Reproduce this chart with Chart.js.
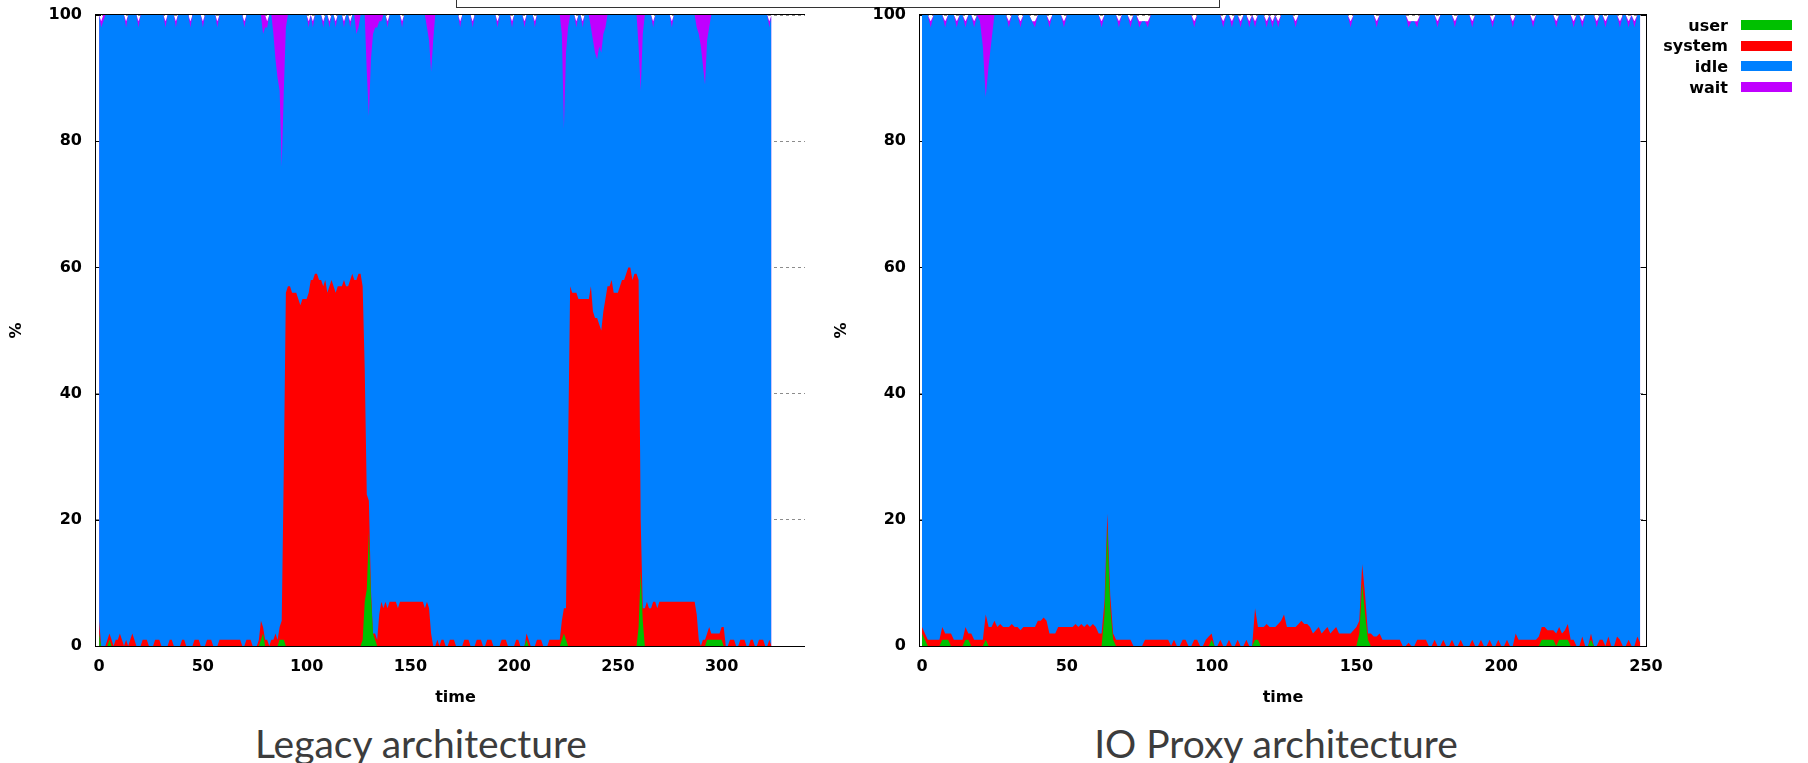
<!DOCTYPE html>
<html>
<head>
<meta charset="utf-8">
<title>CPU usage: legacy vs IO proxy architecture</title>
<script src="https://cdn.jsdelivr.net/npm/chart.js@4.4.1/dist/chart.umd.min.js"></script>
<style>
    html, body { margin: 0; padding: 0; background: #ffffff; }
    #page { position: relative; width: 1808px; height: 763px; overflow: hidden; background: #ffffff; }
    #legacyClip { position: absolute; left: 0; top: 0; width: 805px; height: 720px; overflow: hidden; }
    #legacyChart { position: absolute; left: 0; top: 0; }
    #proxyChart { position: absolute; left: 825px; top: 0; }
    .caption { position: absolute; top: 721px; width: 500px; text-align: center; font-family: Lato, "Open Sans", sans-serif; font-size: 39px; line-height: 44px; color: #3c3c3c; white-space: nowrap; }
    #titleBox { position: absolute; left: 456px; top: -20px; width: 764px; height: 28px; border: 1px solid #333333; box-sizing: border-box; }
    #legend { position: absolute; left: 1600px; top: 0; width: 208px; height: 110px; font: bold 16px "DejaVu Sans", sans-serif; color: #000000; }
    .legend-row { position: absolute; left: 0; height: 20px; display: flex; align-items: center; }
    .legend-row span { display: block; width: 128px; text-align: right; }
    .legend-row i { display: block; width: 51px; height: 10px; margin-left: 13px; }
</style>
</head>
<body>
<div id="page">
    <div id="titleBox"></div>
    <div id="legacyClip"><canvas id="legacyChart" width="820" height="720"></canvas></div>
    <canvas id="proxyChart" width="841" height="720"></canvas>
    <div id="legend"></div>
    <div class="caption" style="left: 171px;">Legacy architecture</div>
    <div class="caption" style="left: 1026px;">IO Proxy architecture</div>
</div>
<script>
"use strict";

const seriesNames = ["user", "system", "idle", "wait"];
const seriesColors = ["#00c000", "#ff0000", "#0080ff", "#c000ff"];
const percentTicks = [0, 20, 40, 60, 80, 100];
const legacyTicksX = [0, 50, 100, 150, 200, 250, 300];
const proxyTicksX = [0, 50, 100, 150, 200, 250];

// one sample per second, t = 0 .. 324
const legacyUser = [
    2, 0, 0, 0, 0, 1, 0, 0, 0, 0,  0, 0, 0, 0, 0, 0, 0, 0, 0, 0,
    0, 0, 0, 0, 0, 0, 0, 0, 0, 0,  0, 0, 0, 0, 0, 0, 0, 0, 0, 0,
    0, 0, 0, 0, 0, 0, 0, 0, 0, 0,  0, 0, 0, 0, 0, 0, 0, 0, 0, 0,
    0, 0, 0, 0, 0, 0, 0, 0, 0, 0,  0, 0, 0, 0, 0, 0, 0, 0, 1, 2,
    0, 0, 0, 0, 0, 0, 0, 1, 1, 1,  0, 0, 0, 0, 0, 0, 0, 0, 0, 0,
    0, 0, 0, 0, 0, 0, 0, 0, 0, 0,  0, 0, 0, 0, 0, 0, 0, 0, 0, 0,
    0, 0, 0, 0, 0, 0, 0, 1, 7, 9,  18, 8, 2, 1, 0, 0, 0, 0, 0, 0,
    0, 0, 0, 0, 0, 0, 0, 0, 0, 0,  0, 0, 0, 0, 0, 0, 0, 0, 0, 0,
    0, 0, 0, 0, 0, 0, 0, 0, 0, 0,  0, 0, 0, 0, 0, 0, 0, 0, 0, 0,
    0, 0, 0, 0, 0, 0, 0, 0, 0, 0,  0, 0, 0, 0, 0, 0, 0, 0, 0, 0,
    0, 0, 0, 0, 0, 0, 1, 0, 0, 0,  0, 0, 0, 0, 0, 0, 0, 0, 0, 0,
    0, 0, 0, 1, 2, 1, 0, 0, 0, 0,  0, 0, 0, 0, 0, 0, 0, 0, 0, 0,
    0, 0, 0, 0, 0, 0, 0, 0, 0, 0,  0, 0, 0, 0, 0, 0, 0, 0, 0, 0,
    3, 12, 4, 0, 0, 0, 0, 0, 0, 0,  0, 0, 0, 0, 0, 0, 0, 0, 0, 0,
    0, 0, 0, 0, 0, 0, 0, 0, 0, 0,  0, 0, 0, 1, 1, 1, 1, 1, 1, 1,
    1, 0, 0, 0, 0, 0, 0, 0, 0, 0,  0, 0, 0, 0, 0, 0, 0, 0, 0, 0,
    0, 0, 0, 0, 0
];
const legacySystem = [
    2, 0, 0, 0, 1, 1, 1, 0, 1, 1,  2, 1, 0, 1, 0, 1, 2, 1, 0, 0,
    0, 1, 1, 1, 0, 0, 0, 1, 1, 1,  0, 0, 0, 0, 1, 1, 0, 0, 0, 0,
    1, 1, 0, 0, 0, 0, 1, 1, 1, 0,  0, 0, 1, 1, 1, 0, 0, 0, 1, 1,
    1, 1, 1, 1, 1, 1, 1, 1, 1, 0,  0, 1, 1, 1, 0, 0, 0, 1, 3, 1,
    1, 1, 0, 1, 1, 2, 1, 2, 3, 27,  56, 57, 57, 56, 56, 56, 55, 54, 55, 55,
    55, 56, 58, 58, 59, 59, 58, 58, 57, 58,  56, 57, 58, 57, 56, 57, 57, 57, 58, 57,
    57, 58, 59, 58, 58, 59, 59, 56, 37, 15,  5, 1, 0, 1, 1, 5, 7, 6, 7, 6,
    7, 7, 7, 7, 6, 7, 7, 7, 7, 7,  7, 7, 7, 7, 7, 7, 7, 6, 7, 6,
    2, 0, 0, 1, 0, 1, 1, 0, 0, 1,  1, 1, 0, 0, 0, 0, 1, 1, 1, 0,
    0, 0, 1, 1, 1, 0, 0, 1, 1, 1,  0, 0, 0, 0, 1, 1, 1, 0, 0, 0,
    0, 1, 1, 0, 0, 0, 1, 1, 0, 0,  0, 1, 1, 1, 0, 0, 0, 1, 1, 1,
    1, 1, 1, 3, 4, 5, 31, 57, 56, 56,  56, 55, 55, 55, 55, 55, 55, 57, 53, 52,
    52, 51, 50, 53, 55, 57, 57, 58, 56, 56,  56, 57, 58, 58, 59, 60, 60, 58, 59, 59,
    55, 8, 2, 6, 7, 6, 6, 7, 7, 6,  7, 7, 7, 7, 7, 7, 7, 7, 7, 7,
    7, 7, 7, 7, 7, 7, 7, 7, 5, 1,  0, 1, 1, 1, 2, 1, 1, 1, 1, 1,
    2, 3, 0, 0, 1, 1, 1, 0, 0, 1,  1, 1, 0, 0, 1, 1, 0, 0, 1, 1,
    1, 0, 0, 1, 0
];
const legacyIdle = [
    96, 98, 99, 100, 99, 98, 99, 100, 99, 99,  98, 99, 100, 97, 100, 99, 98, 99, 100, 98,
    100, 99, 99, 99, 100, 100, 100, 99, 99, 99,  100, 100, 98, 100, 99, 99, 100, 98, 100, 100,
    99, 99, 100, 100, 98, 100, 99, 99, 99, 100,  98, 100, 99, 99, 99, 100, 100, 98, 99, 99,
    99, 99, 99, 99, 99, 99, 99, 99, 99, 100,  98, 99, 99, 99, 100, 100, 100, 99, 96, 94,
    97, 97, 100, 99, 96, 91, 89, 85, 72, 60,  42, 43, 43, 44, 44, 44, 45, 46, 45, 45,
    45, 42, 42, 40, 41, 41, 42, 42, 41, 42,  44, 41, 42, 43, 42, 43, 43, 43, 40, 43,
    43, 40, 41, 42, 39, 39, 41, 43, 56, 67,  61, 84, 95, 96, 97, 94, 92, 94, 93, 92,
    93, 93, 93, 93, 94, 93, 91, 93, 93, 93,  93, 93, 93, 93, 93, 93, 93, 94, 91, 90,
    89, 96, 100, 99, 100, 99, 99, 100, 100, 99,  99, 99, 100, 100, 98, 100, 99, 99, 99, 100,
    98, 100, 99, 99, 99, 100, 100, 99, 99, 99,  100, 100, 98, 100, 99, 99, 99, 100, 100, 98,
    100, 99, 99, 100, 100, 98, 98, 99, 100, 100,  98, 99, 99, 99, 100, 100, 100, 99, 99, 99,
    99, 99, 99, 93, 76, 88, 67, 43, 44, 44,  42, 45, 45, 43, 45, 45, 45, 41, 43, 42,
    41, 44, 44, 44, 43, 43, 43, 42, 44, 44,  44, 43, 42, 42, 41, 40, 40, 42, 41, 41,
    37, 68, 91, 94, 93, 94, 94, 91, 93, 94,  93, 93, 93, 93, 93, 93, 91, 93, 93, 93,
    93, 93, 93, 93, 93, 93, 93, 93, 93, 96,  95, 91, 88, 94, 95, 98, 98, 98, 98, 98,
    97, 97, 100, 100, 99, 99, 99, 100, 100, 99,  99, 99, 100, 100, 99, 99, 100, 100, 99, 99,
    99, 100, 100, 97, 100
];
const legacyWait = [
    0, 1, 1, 0, 0, 0, 0, 0, 0, 0,  0, 0, 0, 1, 0, 0, 0, 0, 0, 1,
    0, 0, 0, 0, 0, 0, 0, 0, 0, 0,  0, 0, 1, 0, 0, 0, 0, 1, 0, 0,
    0, 0, 0, 0, 1, 0, 0, 0, 0, 0,  1, 0, 0, 0, 0, 0, 0, 1, 0, 0,
    0, 0, 0, 0, 0, 0, 0, 0, 0, 0,  1, 0, 0, 0, 0, 0, 0, 0, 0, 3,
    2, 1, 0, 0, 3, 7, 10, 12, 24, 12,  2, 0, 0, 0, 0, 0, 0, 0, 0, 0,
    0, 1, 0, 1, 0, 0, 0, 0, 1, 0,  0, 1, 0, 0, 1, 0, 0, 0, 1, 0,
    0, 1, 0, 0, 3, 2, 0, 0, 0, 9,  16, 7, 3, 2, 2, 1, 1, 0, 0, 1,
    0, 0, 0, 0, 0, 0, 1, 0, 0, 0,  0, 0, 0, 0, 0, 0, 0, 0, 2, 4,
    9, 4, 0, 0, 0, 0, 0, 0, 0, 0,  0, 0, 0, 0, 1, 0, 0, 0, 0, 0,
    1, 0, 0, 0, 0, 0, 0, 0, 0, 0,  0, 0, 1, 0, 0, 0, 0, 0, 0, 1,
    0, 0, 0, 0, 0, 1, 0, 0, 0, 0,  1, 0, 0, 0, 0, 0, 0, 0, 0, 0,
    0, 0, 0, 3, 18, 6, 2, 0, 0, 0,  1, 0, 0, 1, 0, 0, 0, 2, 4, 6,
    7, 5, 6, 3, 2, 0, 0, 0, 0, 0,  0, 0, 0, 0, 0, 0, 0, 0, 0, 0,
    5, 12, 3, 0, 0, 0, 0, 1, 0, 0,  0, 0, 0, 0, 0, 0, 1, 0, 0, 0,
    0, 0, 0, 0, 0, 0, 0, 0, 2, 3,  5, 8, 11, 4, 2, 0, 0, 0, 0, 0,
    0, 0, 0, 0, 0, 0, 0, 0, 0, 0,  0, 0, 0, 0, 0, 0, 0, 0, 0, 0,
    0, 0, 0, 1, 0
];

// one sample per second, t = 0 .. 248
const proxyUser = [
    2, 1, 0, 0, 0, 0, 0, 1, 1, 1,  0, 0, 0, 0, 0, 1, 1, 0, 0, 0,
    0, 0, 1, 0, 0, 0, 0, 0, 0, 0,  0, 0, 0, 0, 0, 0, 0, 0, 0, 0,
    0, 0, 0, 0, 0, 0, 0, 0, 0, 0,  0, 0, 0, 0, 0, 0, 0, 0, 0, 0,
    0, 0, 0, 5, 19, 6, 1, 0, 0, 0,  0, 0, 0, 0, 0, 0, 0, 0, 0, 0,
    0, 0, 0, 0, 0, 0, 0, 0, 0, 0,  0, 0, 0, 0, 0, 0, 0, 0, 0, 0,
    1, 0, 0, 0, 0, 0, 0, 0, 0, 0,  0, 0, 0, 0, 0, 1, 1, 0, 0, 0,
    0, 0, 0, 0, 0, 0, 0, 0, 0, 0,  0, 0, 0, 0, 0, 0, 0, 0, 0, 0,
    0, 0, 0, 0, 0, 0, 0, 0, 0, 0,  0, 2, 10, 5, 1, 0, 0, 0, 0, 0,
    0, 0, 0, 0, 0, 0, 0, 0, 0, 0,  0, 0, 0, 0, 0, 0, 0, 0, 0, 0,
    0, 0, 0, 0, 0, 0, 0, 0, 0, 0,  0, 0, 0, 0, 0, 0, 0, 0, 0, 0,
    0, 0, 0, 0, 0, 0, 0, 0, 0, 0,  0, 0, 0, 0, 1, 1, 1, 1, 1, 0,
    1, 1, 1, 1, 0, 0, 0, 0, 0, 0,  0, 1, 0, 0, 0, 0, 0, 0, 0, 0,
    0, 0, 0, 0, 0, 0, 0, 0, 0
];
const proxySystem = [
    1, 1, 1, 1, 1, 1, 1, 2, 1, 1,  2, 1, 1, 1, 1, 2, 1, 2, 1, 1,
    1, 1, 4, 3, 3, 4, 3, 3.5, 3, 3,  3, 3.5, 3, 3, 2.5, 3, 3, 3, 3, 3,
    4, 4, 4.5, 4, 2, 2, 2, 3, 3, 3,  3, 3, 3, 3.5, 3, 3.5, 3, 3.5, 3, 3.5,
    3, 2, 2, 2, 2, 2, 1, 1, 1, 1,  1, 1, 1, 0, 0, 0, 0, 1, 1, 1,
    1, 1, 1, 1, 1, 1, 0, 1, 0, 0,  1, 1, 0, 0, 1, 1, 0, 0, 1, 1.5,
    1, 0, 0, 1, 0, 0, 1, 0, 0, 1,  0, 0, 1, 0, 0, 5, 2, 3, 3, 3.5,
    3, 3, 3, 3.5, 4, 5, 3, 3, 3, 3,  3.5, 4, 3.5, 3.5, 3, 2, 2.5, 3, 2, 2.5,
    3, 2, 2.5, 3, 2, 2, 2, 2, 2, 2.5,  3, 2, 3, 3, 1, 2, 1.5, 1.5, 2, 1,
    1, 1, 1, 1, 1, 1, 0, 0, 0.5, 0,  0, 1, 1, 1, 1, 0, 0, 1, 0, 0,
    1, 0, 0, 1, 0, 0, 1, 0, 0, 0,  1, 0, 0, 1, 0, 0, 1, 0, 0, 1,
    0, 0, 1, 0, 0, 2, 1, 1, 1, 1,  1, 1, 1, 1.5, 2, 2, 1.5, 1.5, 1.5, 2,
    2, 1, 1.5, 2.5, 1, 1, 0, 0, 1.5, 0,  0, 1, 0, 0, 1, 1, 0, 1.5, 0, 0,
    1.5, 1, 0, 0, 1, 0, 0, 1.5, 0.5
];
const proxyIdle = [
    97, 98, 99, 97, 99, 99, 99, 97, 96, 98,  98, 99, 97, 99, 99, 95, 98, 98, 97, 99,
    98, 94, 82, 89, 93, 96, 97, 96.5, 97, 97,  95, 96.5, 97, 97, 95.5, 97, 97, 97, 96, 95,
    96, 96, 95.5, 96, 96, 98, 98, 97, 97, 95,  97, 97, 97, 96.5, 97, 96.5, 97, 96.5, 97, 96.5,
    97, 98, 96, 93, 79, 92, 98, 99, 97, 99,  99, 99, 97, 100, 100, 98, 99, 98, 97, 99,
    99, 99, 99, 99, 99, 99, 100, 99, 100, 100,  99, 99, 100, 100, 97, 99, 100, 100, 99, 98.5,
    98, 100, 100, 99, 98, 100, 99, 98, 100, 99,  98, 100, 99, 98, 100, 92, 97, 97, 97, 94.5,
    97, 95, 97, 94.5, 96, 95, 97, 97, 97, 95,  96.5, 96, 96.5, 96.5, 97, 98, 97.5, 97, 98, 97.5,
    97, 98, 97.5, 97, 98, 98, 98, 98, 96, 97.5,  97, 96, 87, 92, 98, 98, 98.5, 96.5, 98, 99,
    99, 99, 99, 99, 99, 99, 100, 100, 97.5, 99,  99, 97, 99, 99, 99, 100, 100, 99, 98, 100,
    99, 100, 100, 99, 98, 100, 99, 100, 100, 100,  97, 100, 100, 99, 100, 100, 99, 98, 100, 99,
    100, 100, 99, 100, 98, 98, 99, 99, 99, 99,  99, 97, 99, 98.5, 97, 97, 97.5, 97.5, 97.5, 96,
    97, 98, 97.5, 96.5, 99, 97, 100, 100, 96.5, 100,  100, 98, 100, 98, 99, 99, 98, 98.5, 100, 100,
    98.5, 97, 100, 100, 97, 100, 98, 98.5, 99.5
];
const proxyWait = [
    0, 0, 0, 1, 0, 0, 0, 0, 1, 0,  0, 0, 1, 0, 0, 1, 0, 0, 1, 0,
    1, 5, 13, 8, 4, 0, 0, 0, 0, 0,  1, 0, 0, 0, 1, 0, 0, 0, 0, 1,
    0, 0, 0, 0, 1, 0, 0, 0, 0, 1,  0, 0, 0, 0, 0, 0, 0, 0, 0, 0,
    0, 0, 1, 0, 0, 0, 0, 0, 1, 0,  0, 0, 1, 0, 0, 1, 0, 0, 1, 0,
    0, 0, 0, 0, 0, 0, 0, 0, 0, 0,  0, 0, 0, 0, 1, 0, 0, 0, 0, 0,
    0, 0, 0, 0, 1, 0, 0, 1, 0, 0,  1, 0, 0, 1, 0, 1, 0, 0, 0, 1,
    0, 1, 0, 1, 0, 0, 0, 0, 0, 1,  0, 0, 0, 0, 0, 0, 0, 0, 0, 0,
    0, 0, 0, 0, 0, 0, 0, 0, 1, 0,  0, 0, 0, 0, 0, 0, 0, 1, 0, 0,
    0, 0, 0, 0, 0, 0, 0, 0, 1, 0,  0, 1, 0, 0, 0, 0, 0, 0, 1, 0,
    0, 0, 0, 0, 1, 0, 0, 0, 0, 0,  1, 0, 0, 0, 0, 0, 0, 1, 0, 0,
    0, 0, 0, 0, 1, 0, 0, 0, 0, 0,  0, 1, 0, 0, 0, 0, 0, 0, 0, 1,
    0, 0, 0, 0, 0, 1, 0, 0, 1, 0,  0, 0, 0, 1, 0, 0, 1, 0, 0, 0,
    0, 1, 0, 0, 1, 0, 1, 0, 0
];

const monoFont = { family: "'DejaVu Sans', sans-serif", size: 16, weight: "bold" };

const frame = {
    id: "frame",
    beforeDatasetsDraw(chart) {
        const { ctx, chartArea: area, scales: { y } } = chart;
        ctx.save();
        ctx.strokeStyle = "#000000";
        ctx.lineWidth = 1;
        ctx.beginPath();
        for (const tick of y.ticks) {
            const py = Math.round(y.getPixelForValue(tick.value)) + 0.5;
            ctx.moveTo(area.left, py);
            ctx.lineTo(area.left + 5, py);
            ctx.moveTo(area.right, py);
            ctx.lineTo(area.right - 5, py);
        }
        ctx.stroke();
        ctx.restore();
    },
    afterDatasetsDraw(chart) {
        const { ctx, chartArea: area } = chart;
        ctx.save();
        ctx.strokeStyle = "#000000";
        ctx.lineWidth = 1;
        ctx.strokeRect(area.left - 0.5, area.top - 0.5, area.right - area.left + 1, area.bottom - area.top + 1);
        ctx.restore();
    }
};

function toPoints(values) {
    return values.map((value, second) => ({ x: second, y: value }));
}

function createCpuChart(canvasId, groups, setup) {
    const canvas = document.getElementById(canvasId);

    return new Chart(canvas, {
        type: "line",
        data: {
            datasets: groups.map((values, index) => ({
                label: seriesNames[index],
                data: toPoints(values),
                backgroundColor: seriesColors[index],
                borderColor: seriesColors[index],
                borderWidth: 0,
                pointRadius: 0,
                tension: 0,
                fill: "origin"
            }))
        },
        options: {
            responsive: false,
            animation: false,
            events: [],
            layout: { padding: { top: 15, right: setup.padRight, bottom: 0, left: 0 } },
            plugins: {
                legend: { display: false },
                tooltip: { enabled: false }
            },
            scales: {
                x: {
                    type: "linear",
                    min: setup.xMin,
                    max: setup.xMax,
                    afterBuildTicks: scale => {
                        scale.ticks = setup.xTicks.map(value => ({ value }));
                    },
                    afterFit: scale => {
                        scale.height = 74;
                        scale.paddingLeft = 0;
                        scale.paddingRight = 0;
                    },
                    grid: { display: false, drawTicks: false },
                    border: { display: false },
                    ticks: { color: "#000000", font: monoFont, padding: 11, maxRotation: 0, autoSkip: false },
                    title: { display: true, text: "time", color: "#000000", font: monoFont, padding: { top: 0, bottom: 13 } }
                },
                y: {
                    stacked: true,
                    min: 0,
                    max: 100,
                    afterBuildTicks: scale => {
                        scale.ticks = percentTicks.map(value => ({ value }));
                    },
                    afterFit: scale => {
                        scale.width = setup.axisWidth;
                        scale.paddingTop = 0;
                        scale.paddingBottom = 0;
                    },
                    grid: { color: "#8c8c8c", lineWidth: 1, drawTicks: false },
                    border: { display: false, dash: [3, 3] },
                    ticks: { color: "#000000", font: monoFont, padding: 14 },
                    title: { display: true, text: "%", color: "#000000", font: monoFont, padding: { top: 7, bottom: 0 } }
                }
            }
        },
        plugins: [frame]
    });
}

function buildLegend() {
    const legend = document.getElementById("legend");
    seriesNames.forEach((name, index) => {
        const row = document.createElement("div");
        row.className = "legend-row";
        row.style.top = (15 + index * 20.7) + "px";
        const label = document.createElement("span");
        label.textContent = name;
        const swatch = document.createElement("i");
        swatch.style.background = seriesColors[index];
        row.append(label, swatch);
        legend.appendChild(row);
    });
}

createCpuChart("legacyChart", [legacyUser, legacySystem, legacyIdle, legacyWait], {
    xMin: -1.5, xMax: 345, xTicks: legacyTicksX, axisWidth: 96, padRight: 5
});
createCpuChart("proxyChart", [proxyUser, proxySystem, proxyIdle, proxyWait], {
    xMin: -0.7, xMax: 250, xTicks: proxyTicksX, axisWidth: 95, padRight: 20
});
buildLegend();
</script>
</body>
</html>
